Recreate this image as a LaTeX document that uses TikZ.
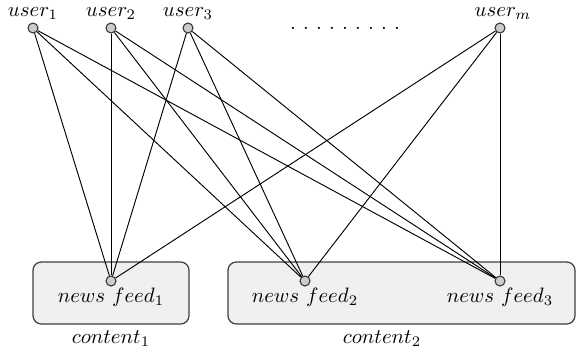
\documentclass[tikz,border=0pt]{standalone}
\begin{document}
\begin{tikzpicture}[x=0.48pt,y=-0.48pt,
  dot/.style={circle,draw=black!80,fill=black!20,line width=0.5pt,inner sep=0pt,minimum size=4.8pt},
  grp/.style={draw=black!75,fill=black!6,line width=0.6pt,rounded corners=4pt},
  lbl/.style={inner sep=0pt},
  link/.style={line width=0.45pt}]
\useasboundingbox (0,0) rectangle (576,347);

% content groups
\draw[grp] (33,262) rectangle (189,324);
\draw[grp] (228,262) rectangle (575,324);

% users
\node[dot] (u1) at (33,28) {};
\node[dot] (u2) at (111,28) {};
\node[dot] (u3) at (188,28) {};
\node[dot] (um) at (500,28) {};
\node[lbl,anchor=base] (lu1) at (33,16) {$user_1$};
\node[lbl,anchor=base] (lu2) at (111,16) {$user_2$};
\node[lbl,anchor=base] (lu3) at (188,16) {$user_3$};
\node[lbl,anchor=base] (lum) at (503,16) {$user_m$};
\node[lbl,anchor=base] (dots) at (345,29)
  {.\hspace{3.45pt}.\hspace{3.45pt}.\hspace{3.45pt}.\hspace{3.45pt}.\hspace{3.45pt}.\hspace{3.45pt}.\hspace{3.45pt}.\hspace{3.45pt}.};

% news feeds
\node[dot] (n1) at (111,281) {};
\node[dot] (n2) at (305,281) {};
\node[dot] (n3) at (500,281) {};
\node[lbl,anchor=base] (ln1) at (111,302) {$news~feed_1$};
\node[lbl,anchor=base] (ln2) at (305,302) {$news~feed_2$};
\node[lbl,anchor=base] (ln3) at (500,302) {$news~feed_3$};

% group captions
\node[lbl,anchor=base] (c1) at (111,343) {$content_1$};
\node[lbl,anchor=base] (c2) at (382,343) {$content_2$};

% every user reaches every news feed
\foreach \u in {u1,u2,u3,um}
  \foreach \n in {n1,n2,n3}
    \draw[link] (\u) -- (\n);
\end{tikzpicture}
\end{document}
